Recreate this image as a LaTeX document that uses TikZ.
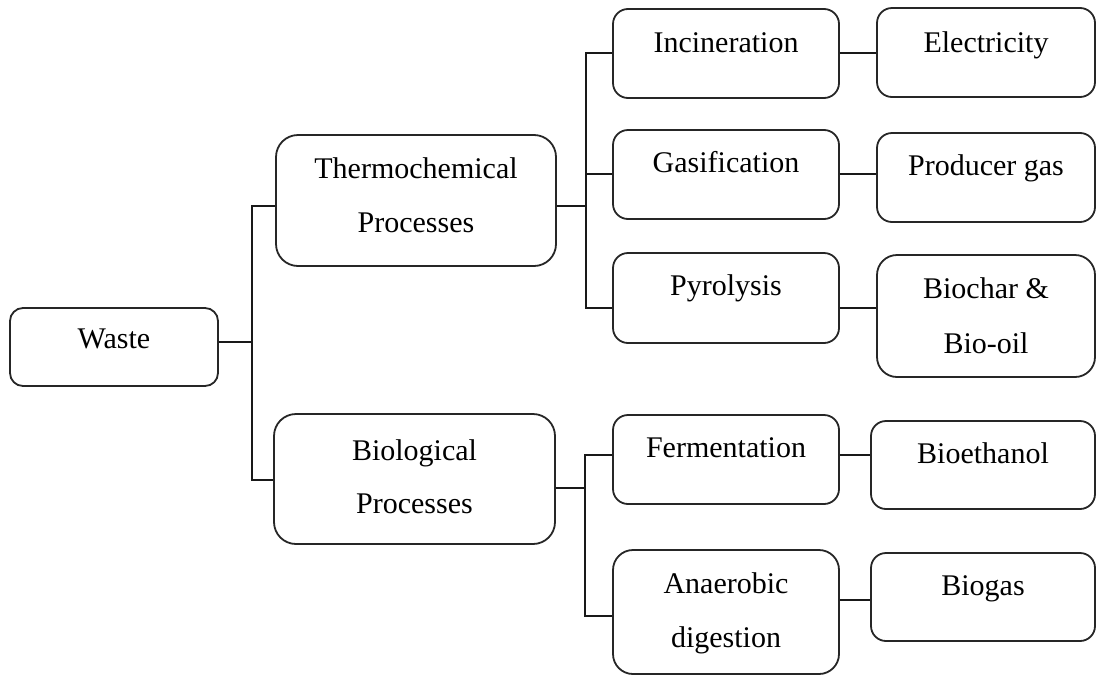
\documentclass[tikz,border=0pt]{standalone}
\usepackage{fontspec}
\setmainfont{Liberation Serif}
\usetikzlibrary{fit}

\tikzset{
  box/.style={draw=black!85, line width=0.9pt, rounded corners=#1, inner sep=0pt, fill=white},
  box/.default=7.5pt,
  txt/.style={anchor=base, inner sep=0pt, font=\fontsize{15}{27}\selectfont},
  link/.style={draw=black!90, line width=0.9pt}
}

\begin{document}
\begin{tikzpicture}[x=0.5pt,y=-0.5pt]
\path[use as bounding box] (0,0) rectangle (1097,675);

% boxes, given by their corners in pixel units
\node[box=6.5pt, fit={(10,308)(218,386)}]   (waste)  {};
\node[box=11pt,  fit={(276,135)(556,266)}]  (thermo) {};
\node[box=11pt,  fit={(274,414)(555,544)}]  (bio)    {};
\node[box=7.5pt, fit={(613,9)(839,98)}]     (inc)    {};
\node[box=7.5pt, fit={(613,130)(839,219)}]  (gas)    {};
\node[box=7.5pt, fit={(613,253)(839,343)}]  (pyr)    {};
\node[box=7.5pt, fit={(613,415)(839,504)}]  (ferm)   {};
\node[box=10pt,  fit={(613,550)(839,674)}]  (anae)   {};
\node[box=7.5pt, fit={(877,8)(1095,97)}]    (elec)   {};
\node[box=7.5pt, fit={(877,133)(1095,222)}] (prod)   {};
\node[box=10pt,  fit={(877,255)(1095,377)}] (char)   {};
\node[box=7.5pt, fit={(871,421)(1095,509)}] (eth)    {};
\node[box=7.5pt, fit={(871,553)(1095,641)}] (biogas) {};

% labels, set on their baselines
\node[txt] (tw)  at (114,348) {Waste};
\node[txt] (tt1) at (416,178) {Thermochemical};
\node[txt] (tt2) at (416,232) {Processes};
\node[txt] (tb1) at (414.5,460) {Biological};
\node[txt] (tb2) at (414.5,513) {Processes};
\node[txt] (ti)  at (726,52)  {Incineration};
\node[txt] (tg)  at (726,172) {Gasification};
\node[txt] (tp)  at (726,295) {Pyrolysis};
\node[txt] (tf)  at (726,457) {Fermentation};
\node[txt] (ta1) at (726,593) {Anaerobic};
\node[txt] (ta2) at (726,647) {digestion};
\node[txt] (te)  at (986,52)  {Electricity};
\node[txt] (tpg) at (986,175) {Producer gas};
\node[txt] (tc1) at (986,298) {Biochar \&};
\node[txt] (tc2) at (986,353) {Bio-oil};
\node[txt] (tbe) at (983,463) {Bioethanol};
\node[txt] (tbg) at (983,595) {Biogas};

% junction points of the tree
\coordinate (m0) at (252,342);
\coordinate (m1) at (252,206);
\coordinate (m2) at (252,480);
\coordinate (u0) at (586,206);
\coordinate (u1) at (586,53);
\coordinate (u2) at (586,174);
\coordinate (u3) at (586,308);
\coordinate (l0) at (585,488);
\coordinate (l1) at (585,455);
\coordinate (l2) at (585,616);
\coordinate (r5) at (855,600);

% waste to the two process families
\path[link] (waste.east |- m0) -- (m0);
\path[link] (thermo.west |- m1) -- (m1) -- (m2) -- (bio.west |- m2);

% thermochemical branch
\path[link] (thermo.east |- u0) -- (u0);
\path[link] (inc.west |- u1) -- (u1) -- (u3) -- (pyr.west |- u3);
\path[link] (gas.west |- u2) -- (u2);
\path[link] (inc.east |- u1) -- (elec.west |- u1);
\path[link] (gas.east |- u2) -- (prod.west |- u2);
\path[link] (pyr.east |- u3) -- (char.west |- u3);

% biological branch
\path[link] (bio.east |- l0) -- (l0);
\path[link] (ferm.west |- l1) -- (l1) -- (l2) -- (anae.west |- l2);
\path[link] (ferm.east |- l1) -- (eth.west |- l1);
\path[link] (anae.east |- r5) -- (biogas.west |- r5);
\end{tikzpicture}
\end{document}
